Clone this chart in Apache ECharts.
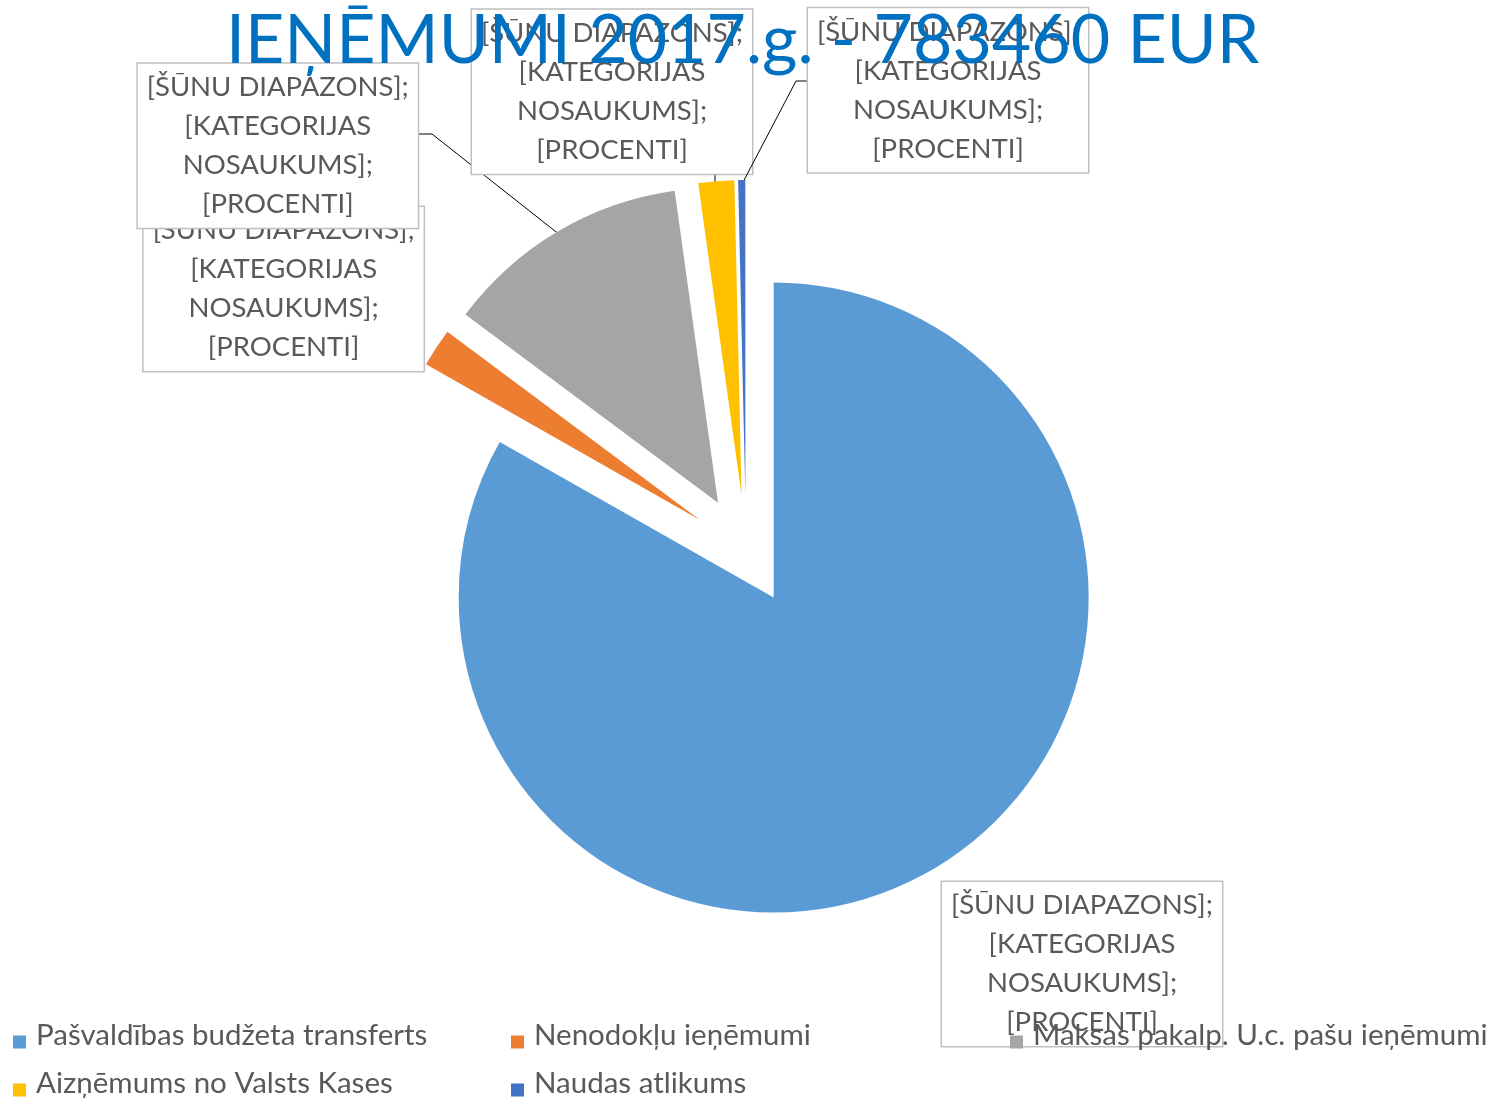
<!DOCTYPE html>
<html>
<head>
<meta charset="utf-8">
<script src="https://cdn.jsdelivr.net/npm/echarts@6/dist/echarts.min.js"></script>
<style>
  html, body { margin: 0; padding: 0; background: #ffffff; }
  #chart { width: 1501px; height: 1105px; }
</style>
</head>
<body>
<div id="chart"></div>
<script>
// ---------------- data ----------------
const titleText = 'IEŅĒMUMI 2017.g. - 783460 EUR';
const categories = [
  'Pašvaldības budžeta transferts',
  'Nenodokļu ieņēmumi',
  'Maksas pakalp. U.c. pašu ieņēmumi',
  'Aizņēmums no Valsts Kases',
  'Naudas atlikums'
];
const values = [652000, 15450, 98800, 14340, 2870];
const labelText = '[ŠŪNU DIAPAZONS];\n[KATEGORIJAS\nNOSAUKUMS];\n[PROCENTI]';

// ---------------- layout / style ----------------
const colors = ['#5B9BD5', '#ED7D31', '#A5A5A5', '#FFC000', '#4472C4'];
const FONT = 'Lato, "Noto Sans", sans-serif';
const PIE_CENTER = [746, 550];
const PIE_RADIUS = 315;
const EXPLODE = 55;   // every slice is pulled out from the centre by this distance
// label box centres and connector paths (Excel-style placement)
const labelBoxes = [
  { cx: 1082, cy: 964, line: null },
  { cx: 283.6, cy: 289, line: null },
  { cx: 277.8, cy: 145.7, line: [[560, 235], [432, 134], [418, 134]] },
  { cx: 612, cy: 91.7, line: [[715, 187], [715, 180], [715, 173]] },
  { cx: 948, cy: 90.3, line: [[741, 186], [796, 81], [808, 81]] }
];
const legendSlots = [[13, 1020], [511, 1020], [1010, 1020], [13, 1068], [511, 1068]];
// square marker sitting slightly below the text centre (Excel style)
const LEGEND_ICON = 'path://M0,0M0,14L13,14L13,27L0,27Z';

const chart = echarts.init(document.getElementById('chart'), null, { renderer: 'canvas' });

const total = values.reduce((a, b) => a + b, 0);
let acc = 0;
const series = categories.map((cat, i) => {
  // exploded slice: shift this slice's pie centre along its own mid angle
  const mid = (acc + values[i] / 2) / total * 2 * Math.PI;
  acc += values[i];
  const center = [PIE_CENTER[0] + EXPLODE * Math.sin(mid), PIE_CENTER[1] - EXPLODE * Math.cos(mid)];
  return {
    type: 'pie',
    name: 'ieņēmumi',
    center: center,
    radius: [0, PIE_RADIUS],
    startAngle: 90,
    clockwise: true,
    silent: true,
    avoidLabelOverlap: false,
    emphasis: { disabled: true },
    z: 2 + i,
    data: categories.map((name, j) => ({
      name: name,
      value: values[j],
      itemStyle: { color: j === i ? colors[j] : 'rgba(0,0,0,0)' },
      label: { show: j === i },
      labelLine: { show: j === i && !!labelBoxes[j].line }
    })),
    label: {
      position: 'outside',
      formatter: labelText,
      fontFamily: FONT,
      fontSize: 27.5,
      lineHeight: 39,
      color: '#595959',
      backgroundColor: '#ffffff',
      borderColor: '#BFBFBF',
      borderWidth: 1.5,
      padding: [8, 8, 0, 8],
      width: 264,
      overflow: 'none',
      align: 'center'
    },
    labelLine: {
      lineStyle: { color: '#000000', width: 1 }
    },
    labelLayout: function (params) {
      const b = labelBoxes[params.dataIndex];
      const out = { x: b.cx, y: b.cy, align: 'center', verticalAlign: 'middle' };
      if (b.line) out.labelLinePoints = b.line;
      return out;
    }
  };
});

const option = {
  animation: false,
  backgroundColor: '#ffffff',
  title: {
    text: titleText,
    left: 226,
    top: 7,
    padding: 0,
    z: 20,
    textStyle: { fontFamily: FONT, fontSize: 68, fontWeight: 'normal', color: '#0070C0', lineHeight: 68 }
  },
  legend: categories.map((c, i) => ({
    data: [{ name: c, icon: LEGEND_ICON, itemStyle: { color: colors[i] } }],
    left: legendSlots[i][0],
    top: legendSlots[i][1],
    padding: 0,
    itemWidth: 13,
    itemHeight: 27,
    selectedMode: false,
    z: 20,
    textStyle: { fontFamily: FONT, fontSize: 29.5, color: '#595959', padding: [0, 0, 0, 5], lineHeight: 30 }
  })),
  series: series
};

chart.setOption(option);
</script>
</body>
</html>
